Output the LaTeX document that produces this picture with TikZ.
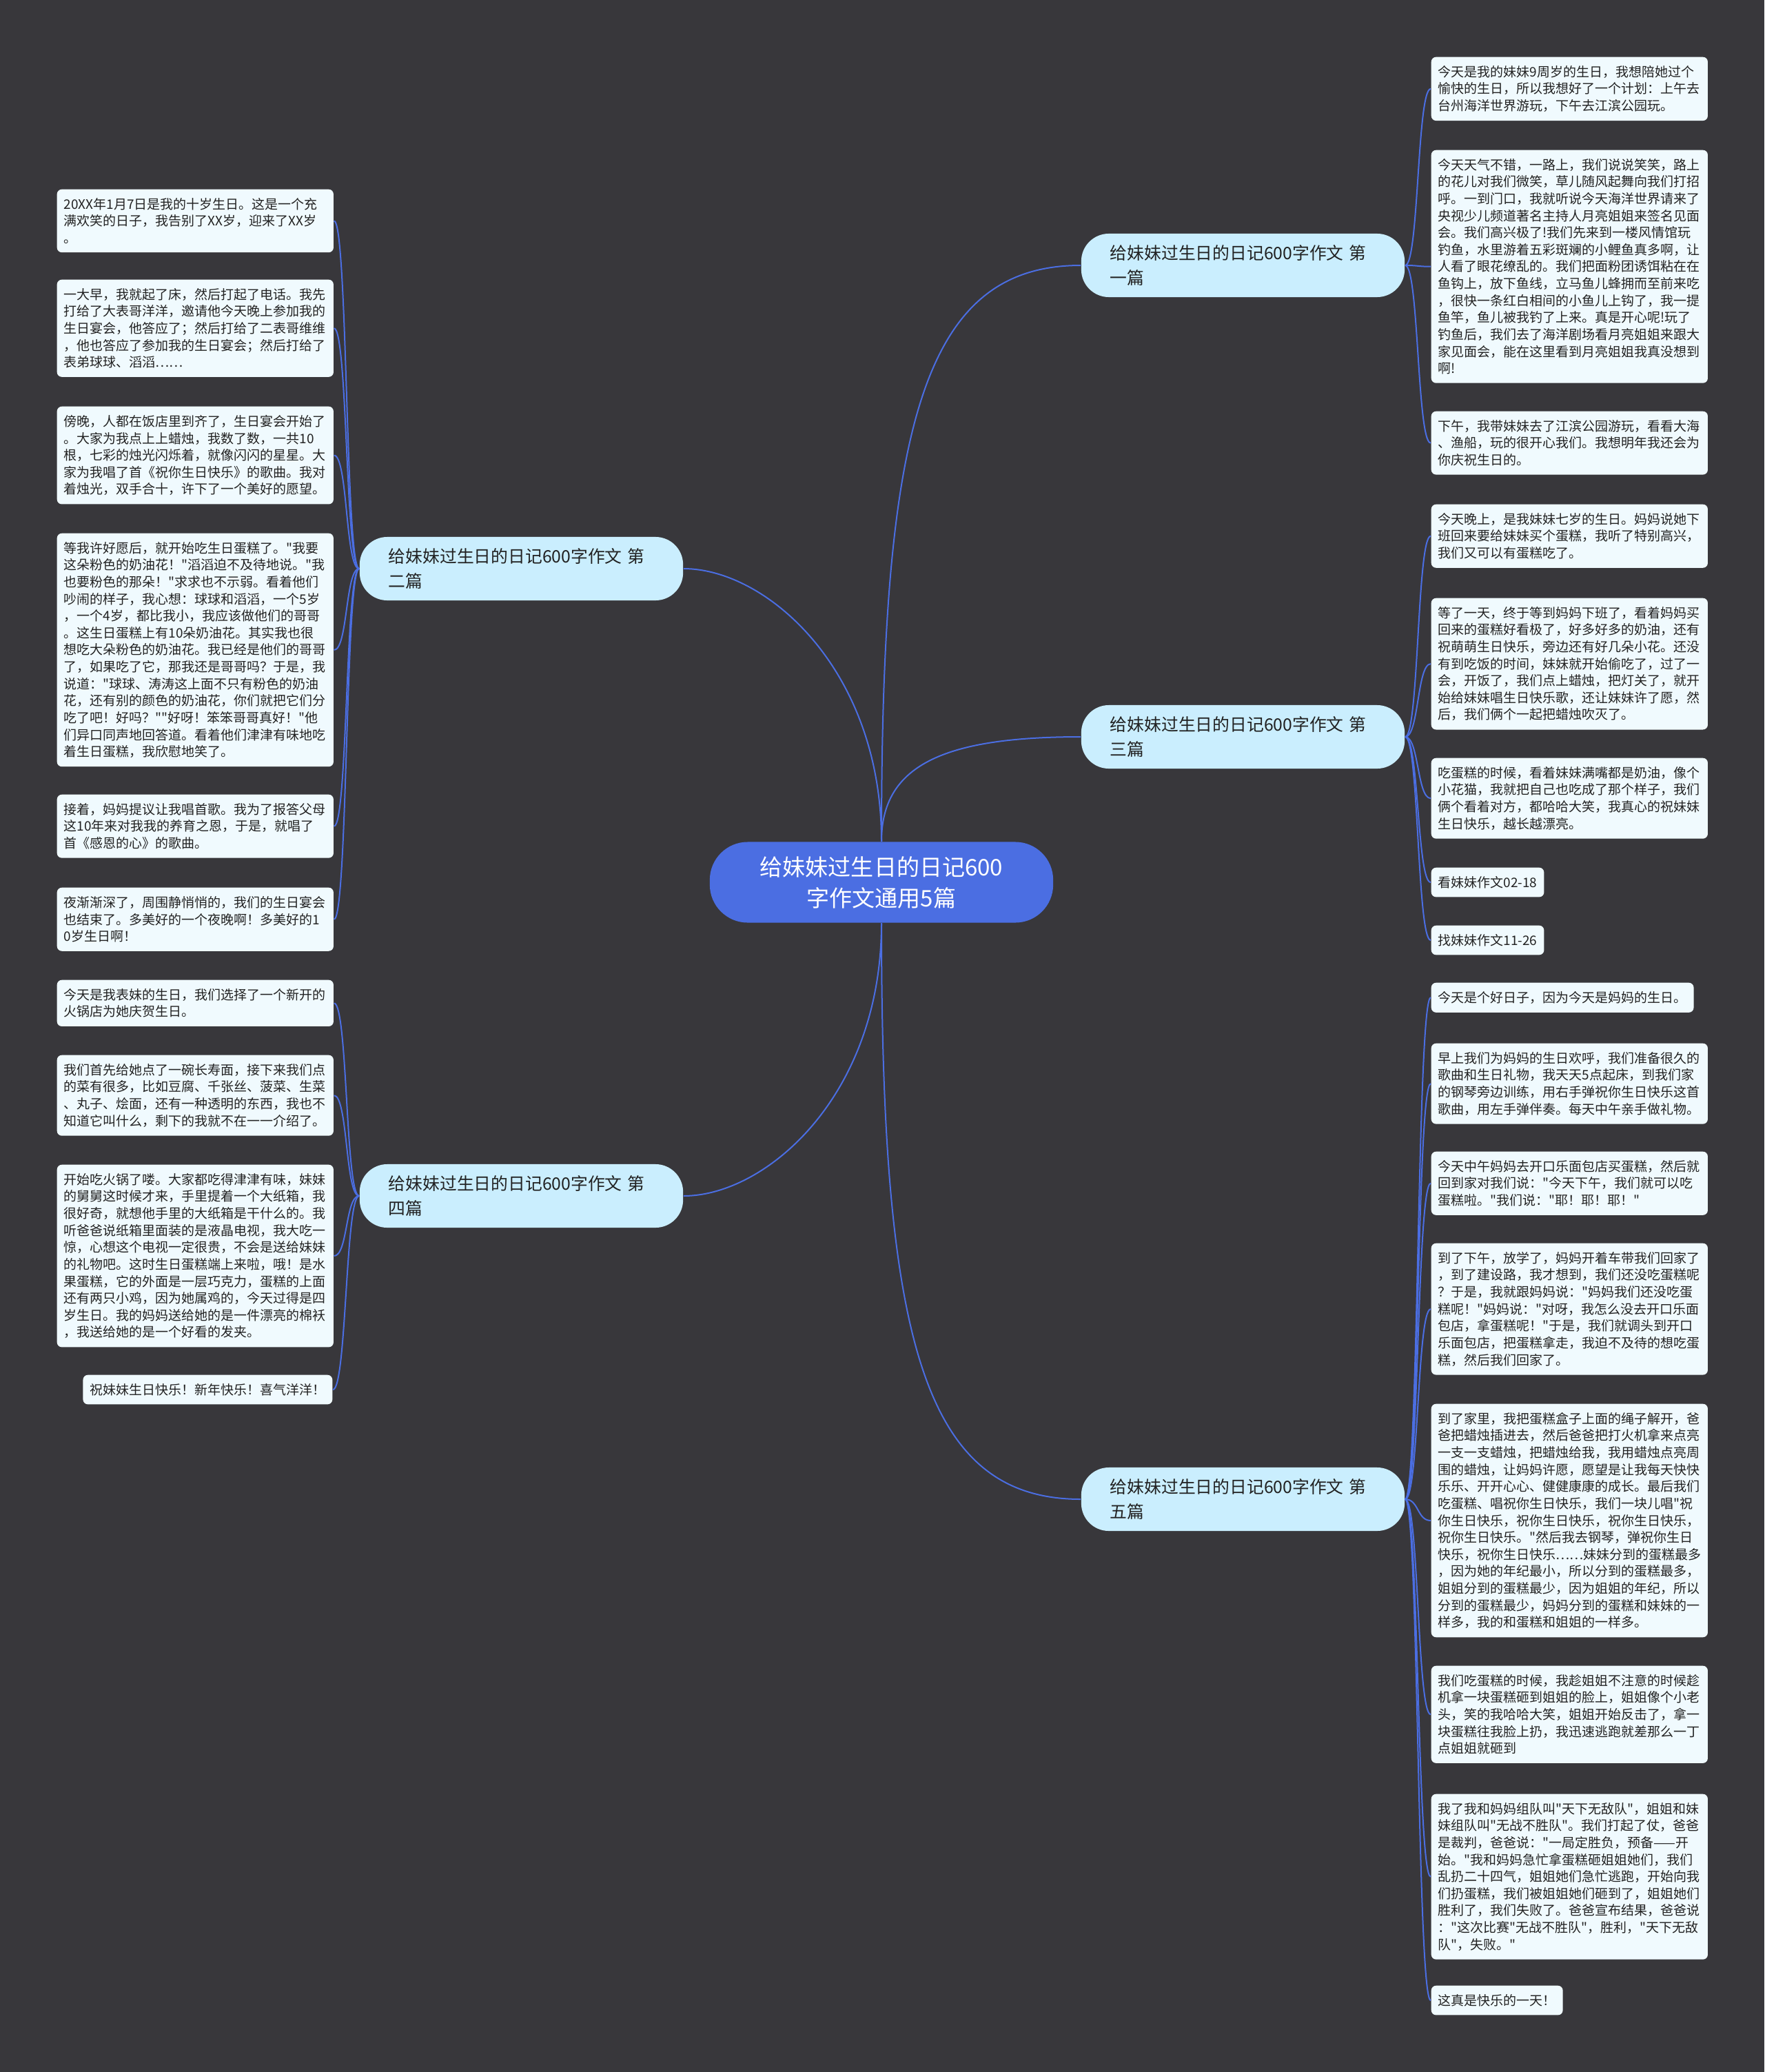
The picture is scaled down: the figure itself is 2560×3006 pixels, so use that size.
\documentclass[tikz,border=0pt]{standalone}
\usepackage{fontspec}
\newfontfamily\mapfont{Noto Sans CJK SC}
\usepackage{xcolor}
\definecolor{mapBg}{HTML}{38373B}
\definecolor{mapBlue}{HTML}{4B6EE2}
\definecolor{mapBranch}{HTML}{CAEEFE}
\definecolor{mapLeaf}{HTML}{F0FAFE}
\definecolor{mapText}{HTML}{222222}
\tikzset{
  leafbase/.style={fill=mapLeaf, rounded corners=0.07cm, align=left,
                   inner xsep=0.1cm, inner ysep=0.125cm, text=mapText,
                   font=\mapfont\fontsize{5.4pt}{7pt}\selectfont},
  leafbox/.style={leafbase, text width=3.81cm},
  branchbox/.style={fill=mapBranch, rounded corners=0.4cm, minimum height=0.92cm,
                    text width=3.85cm, inner xsep=0.42cm, align=left, text=mapText,
                    font=\mapfont\fontsize{7.05pt}{10pt}\selectfont},
  rootbox/.style={fill=mapBlue, rounded corners=0.55cm, minimum width=4.98cm,
                  minimum height=1.17cm, align=center, text=white,
                  font=\mapfont\fontsize{9.4pt}{12.8pt}\selectfont},
  linkline/.style={draw=mapBlue, line width=0.02cm},
}
\begin{document}
\begin{tikzpicture}[x=0.01cm, y=-0.01cm]
\fill[mapBg] (0,0) rectangle (2560,3006);

% root and branches
\node[rootbox] (root) at (1279,1280) {给妹妹过生日的日记600\\字作文通用5篇};
\node[branchbox] (b1) at (1803.5,385) {给妹妹过生日的日记600字作文 第\\一篇};
\node[branchbox] (b2) at (756.5,825) {给妹妹过生日的日记600字作文 第\\二篇};
\node[branchbox] (b3) at (1803.5,1069) {给妹妹过生日的日记600字作文 第\\三篇};
\node[branchbox] (b4) at (756.5,1735) {给妹妹过生日的日记600字作文 第\\四篇};
\node[branchbox] (b5) at (1803.5,2175) {给妹妹过生日的日记600字作文 第\\五篇};

% first
\node[leafbox, anchor=north west] (r1a) at (2076,82) {今天是我的妹妹9周岁的生日，我想陪她过个\\愉快的生日，所以我想好了一个计划：上午去\\台州海洋世界游玩，下午去江滨公园玩。};
\node[leafbox, anchor=north west] (r1b) at (2076,217) {今天天气不错，一路上，我们说说笑笑，路上\\的花儿对我们微笑，草儿随风起舞向我们打招\\呼。一到门口，我就听说今天海洋世界请来了\\央视少儿频道著名主持人月亮姐姐来签名见面\\会。我们高兴极了!我们先来到一楼风情馆玩\\钓鱼，水里游着五彩斑斓的小鲤鱼真多啊，让\\人看了眼花缭乱的。我们把面粉团诱饵粘在在\\鱼钩上，放下鱼线，立马鱼儿蜂拥而至前来吃\\，很快一条红白相间的小鱼儿上钩了，我一提\\鱼竿，鱼儿被我钓了上来。真是开心呢!玩了\\钓鱼后，我们去了海洋剧场看月亮姐姐来跟大\\家见面会，能在这里看到月亮姐姐我真没想到\\啊!};
\node[leafbox, anchor=north west] (r1c) at (2076,596) {下午，我带妹妹去了江滨公园游玩，看看大海\\、渔船，玩的很开心我们。我想明年我还会为\\你庆祝生日的。};

% third
\node[leafbox, anchor=north west] (r3a) at (2076,731) {今天晚上，是我妹妹七岁的生日。妈妈说她下\\班回来要给妹妹买个蛋糕，我听了特别高兴，\\我们又可以有蛋糕吃了。};
\node[leafbox, anchor=north west] (r3b) at (2076,867) {等了一天，终于等到妈妈下班了，看着妈妈买\\回来的蛋糕好看极了，好多好多的奶油，还有\\祝萌萌生日快乐，旁边还有好几朵小花。还没\\有到吃饭的时间，妹妹就开始偷吃了，过了一\\会，开饭了，我们点上蜡烛，把灯关了，就开\\始给妹妹唱生日快乐歌，还让妹妹许了愿，然\\后，我们俩个一起把蜡烛吹灭了。};
\node[leafbox, anchor=north west] (r3c) at (2076,1099) {吃蛋糕的时候，看着妹妹满嘴都是奶油，像个\\小花猫，我就把自己也吃成了那个样子，我们\\俩个看着对方，都哈哈大笑，我真心的祝妹妹\\生日快乐，越长越漂亮。};
\node[leafbase, anchor=north west] (r3d) at (2076,1258) {看妹妹作文02-18};
\node[leafbase, anchor=north west] (r3e) at (2076,1342) {找妹妹作文11-26};

% fifth
\node[leafbase, anchor=north west] (r5a) at (2076,1425) {今天是个好日子，因为今天是妈妈的生日。};
\node[leafbox, anchor=north west] (r5b) at (2076,1513) {早上我们为妈妈的生日欢呼，我们准备很久的\\歌曲和生日礼物，我天天5点起床，到我们家\\的钢琴旁边训练，用右手弹祝你生日快乐这首\\歌曲，用左手弹伴奏。每天中午亲手做礼物。};
\node[leafbox, anchor=north west] (r5c) at (2076,1670) {今天中午妈妈去开口乐面包店买蛋糕，然后就\\回到家对我们说："今天下午，我们就可以吃\\蛋糕啦。"我们说："耶！耶！耶！"};
\node[leafbox, anchor=north west] (r5d) at (2076,1803) {到了下午，放学了，妈妈开着车带我们回家了\\，到了建设路，我才想到，我们还没吃蛋糕呢\\？于是，我就跟妈妈说："妈妈我们还没吃蛋\\糕呢！"妈妈说："对呀，我怎么没去开口乐面\\包店，拿蛋糕呢！"于是，我们就调头到开口\\乐面包店，把蛋糕拿走，我迫不及待的想吃蛋\\糕，然后我们回家了。};
\node[leafbox, anchor=north west] (r5e) at (2076,2036) {到了家里，我把蛋糕盒子上面的绳子解开，爸\\爸把蜡烛插进去，然后爸爸把打火机拿来点亮\\一支一支蜡烛，把蜡烛给我，我用蜡烛点亮周\\围的蜡烛，让妈妈许愿，愿望是让我每天快快\\乐乐、开开心心、健健康康的成长。最后我们\\吃蛋糕、唱祝你生日快乐，我们一块儿唱"祝\\你生日快乐，祝你生日快乐，祝你生日快乐，\\祝你生日快乐。"然后我去钢琴，弹祝你生日\\快乐，祝你生日快乐……妹妹分到的蛋糕最多\\，因为她的年纪最小，所以分到的蛋糕最多，\\姐姐分到的蛋糕最少，因为姐姐的年纪，所以\\分到的蛋糕最少，妈妈分到的蛋糕和妹妹的一\\样多，我的和蛋糕和姐姐的一样多。};
\node[leafbox, anchor=north west] (r5f) at (2076,2416) {我们吃蛋糕的时候，我趁姐姐不注意的时候趁\\机拿一块蛋糕砸到姐姐的脸上，姐姐像个小老\\头，笑的我哈哈大笑，姐姐开始反击了，拿一\\块蛋糕往我脸上扔，我迅速逃跑就差那么一丁\\点姐姐就砸到};
\node[leafbox, anchor=north west] (r5g) at (2076,2602) {我了我和妈妈组队叫"天下无敌队"，姐姐和妹\\妹组队叫"无战不胜队"。我们打起了仗，爸爸\\是裁判，爸爸说："一局定胜负，预备——开\\始。"我和妈妈急忙拿蛋糕砸姐姐她们，我们\\乱扔二十四气，姐姐她们急忙逃跑，开始向我\\们扔蛋糕，我们被姐姐她们砸到了，姐姐她们\\胜利了，我们失败了。爸爸宣布结果，爸爸说\\："这次比赛"无战不胜队"，胜利，"天下无敌\\队"，失败。"};
\node[leafbase, anchor=north west] (r5h) at (2076,2880) {这真是快乐的一天！};

% second
\node[leafbox, anchor=north west] (l2a) at (82,274) {20XX年1月7日是我的十岁生日。这是一个充\\满欢笑的日子，我告别了XX岁，迎来了XX岁\\。};
\node[leafbox, anchor=north west] (l2b) at (82,405) {一大早，我就起了床，然后打起了电话。我先\\打给了大表哥洋洋，邀请他今天晚上参加我的\\生日宴会，他答应了；然后打给了二表哥维维\\，他也答应了参加我的生日宴会；然后打给了\\表弟球球、滔滔……};
\node[leafbox, anchor=north west] (l2c) at (82,589) {傍晚，人都在饭店里到齐了，生日宴会开始了\\。大家为我点上上蜡烛，我数了数，一共10\\根，七彩的烛光闪烁着，就像闪闪的星星。大\\家为我唱了首《祝你生日快乐》的歌曲。我对\\着烛光，双手合十，许下了一个美好的愿望。};
\node[leafbox, anchor=north west] (l2d) at (82,773) {等我许好愿后，就开始吃生日蛋糕了。"我要\\这朵粉色的奶油花！"滔滔迫不及待地说。"我\\也要粉色的那朵！"求求也不示弱。看着他们\\吵闹的样子，我心想：球球和滔滔，一个5岁\\，一个4岁，都比我小，我应该做他们的哥哥\\。这生日蛋糕上有10朵奶油花。其实我也很\\想吃大朵粉色的奶油花。我已经是他们的哥哥\\了，如果吃了它，那我还是哥哥吗？于是，我\\说道："球球、涛涛这上面不只有粉色的奶油\\花，还有别的颜色的奶油花，你们就把它们分\\吃了吧！好吗？""好呀！笨笨哥哥真好！"他\\们异口同声地回答道。看着他们津津有味地吃\\着生日蛋糕，我欣慰地笑了。};
\node[leafbox, anchor=north west] (l2e) at (82,1152) {接着，妈妈提议让我唱首歌。我为了报答父母\\这10年来对我我的养育之恩，于是，就唱了\\首《感恩的心》的歌曲。};
\node[leafbox, anchor=north west] (l2f) at (82,1287) {夜渐渐深了，周围静悄悄的，我们的生日宴会\\也结束了。多美好的一个夜晚啊！多美好的1\\0岁生日啊！};

% fourth
\node[leafbox, anchor=north west] (l4a) at (82,1421) {今天是我表妹的生日，我们选择了一个新开的\\火锅店为她庆贺生日。};
\node[leafbox, anchor=north west] (l4b) at (82,1530) {我们首先给她点了一碗长寿面，接下来我们点\\的菜有很多，比如豆腐、千张丝、菠菜、生菜\\、丸子、烩面，还有一种透明的东西，我也不\\知道它叫什么，剩下的我就不在一一介绍了。};
\node[leafbox, anchor=north west] (l4c) at (82,1689) {开始吃火锅了喽。大家都吃得津津有味，妹妹\\的舅舅这时候才来，手里提着一个大纸箱，我\\很好奇，就想他手里的大纸箱是干什么的。我\\听爸爸说纸箱里面装的是液晶电视，我大吃一\\惊，心想这个电视一定很贵，不会是送给妹妹\\的礼物吧。这时生日蛋糕端上来啦，哦！是水\\果蛋糕，它的外面是一层巧克力，蛋糕的上面\\还有两只小鸡，因为她属鸡的，今天过得是四\\岁生日。我的妈妈送给她的是一件漂亮的棉袄\\，我送给她的是一个好看的发夹。};
\node[leafbase, anchor=north east] (l4d) at (483,1994) {祝妹妹生日快乐！新年快乐！喜气洋洋！};

% root links
\draw[linkline] (root.north) .. controls +(0,-600) and +(-230,0) .. (b1.west);
\draw[linkline] (root.north) .. controls +(0,-250) and +(120,0) .. (b2.east);
\draw[linkline] (root.north) .. controls +(0,-110) and +(-200,0) .. (b3.west);
\draw[linkline] (root.south) .. controls +(0,250) and +(120,0) .. (b4.east);
\draw[linkline] (root.south) .. controls +(0,600) and +(-230,0) .. (b5.west);

% leaf links
\foreach \l in {r1a,r1b,r1c}
  \draw[linkline] (b1.east) .. controls +(20,0) and +(-20,0) .. (\l.west);
\foreach \l in {r3a,r3b,r3c,r3d,r3e}
  \draw[linkline] (b3.east) .. controls +(20,0) and +(-20,0) .. (\l.west);
\foreach \l in {r5a,r5b,r5c,r5d,r5e,r5f,r5g,r5h}
  \draw[linkline] (b5.east) .. controls +(20,0) and +(-20,0) .. (\l.west);
\foreach \l in {l2a,l2b,l2c,l2d,l2e,l2f}
  \draw[linkline] (b2.west) .. controls +(-20,0) and +(20,0) .. (\l.east);
\foreach \l in {l4a,l4b,l4c,l4d}
  \draw[linkline] (b4.west) .. controls +(-20,0) and +(20,0) .. (\l.east);
\end{tikzpicture}
\end{document}
